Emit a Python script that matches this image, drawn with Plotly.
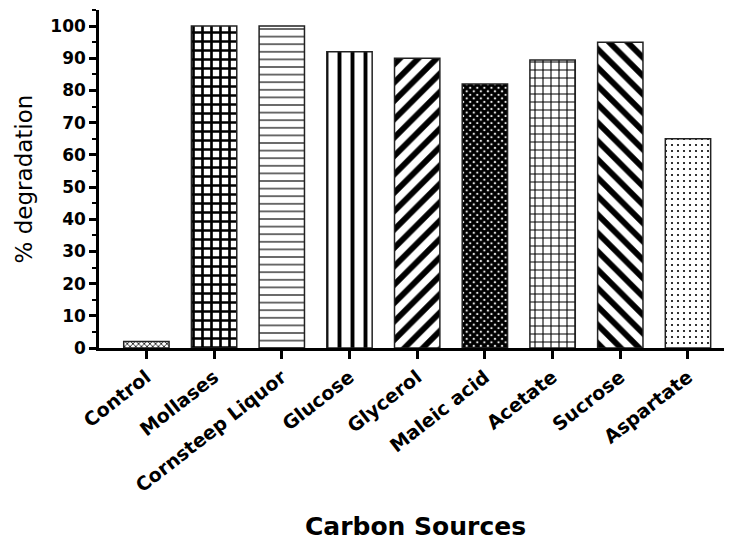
import plotly.graph_objects as go

categories = ["Control", "Mollases", "Cornsteep Liquor", "Glucose", "Glycerol",
              "Maleic acid", "Acetate", "Sucrose", "Aspartate"]
values = [2, 100, 100, 92, 90, 82, 89.5, 95, 65]
y_ticks = [0, 10, 20, 30, 40, 50, 60, 70, 80, 90, 100]

shapes = ["x", "+", "-", "|", "/", "x", "+", "\\", "."]
sizes = [4, 9, 7.6, 13, 13, 5, 8, 13, 6]
solid = [0.35, 0.5, 0.15, 0.3, 0.45, 0.85, 0.25, 0.45, 0.1]

FONT = "DejaVu Sans, Verdana, Arial"

fig = go.Figure()
for i, (c, v) in enumerate(zip(categories, values)):
    fig.add_trace(go.Bar(
        x=[c], y=[v], width=0.67,
        marker=dict(color="white",
                    line=dict(color="#222", width=1.5),
                    pattern=dict(shape=shapes[i], size=sizes[i], solidity=solid[i],
                                 fgcolor="black", bgcolor="white", fgopacity=1,
                                 fillmode="replace")),
        showlegend=False,
    ))

fig.update_layout(
    width=724, height=533,
    margin=dict(l=91, r=0, t=2, b=193),
    plot_bgcolor="white", paper_bgcolor="white",
    font=dict(family=FONT, color="black"),
)
fig.update_xaxes(
    type="category", categoryorder="array", categoryarray=categories,
    range=[-0.7, 8.65], automargin=False,
    showline=True, linecolor="black", linewidth=2.5,
    ticks="outside", ticklen=8, tickwidth=2.5, tickcolor="black",
    tickangle=-38,
    tickfont=dict(size=19, family=FONT, weight="bold"),
    title=dict(text="<b>Carbon Sources</b>", font=dict(size=25, family=FONT), standoff=24),
    showgrid=False,
)
fig.update_yaxes(
    range=[0, 105], automargin=False,
    tickvals=y_ticks,
    showline=True, linecolor="black", linewidth=2.5,
    ticks="outside", ticklen=7, tickwidth=2.5, tickcolor="black",
    minor=dict(dtick=5, tick0=0, ticks="outside", ticklen=4, tickwidth=2, tickcolor="black"),
    tickfont=dict(size=17, family=FONT, weight="bold"),
    title=dict(text="% degradation", font=dict(size=23, family=FONT), standoff=12),
    showgrid=False, zeroline=False,
)

fig.write_html("out.html")
